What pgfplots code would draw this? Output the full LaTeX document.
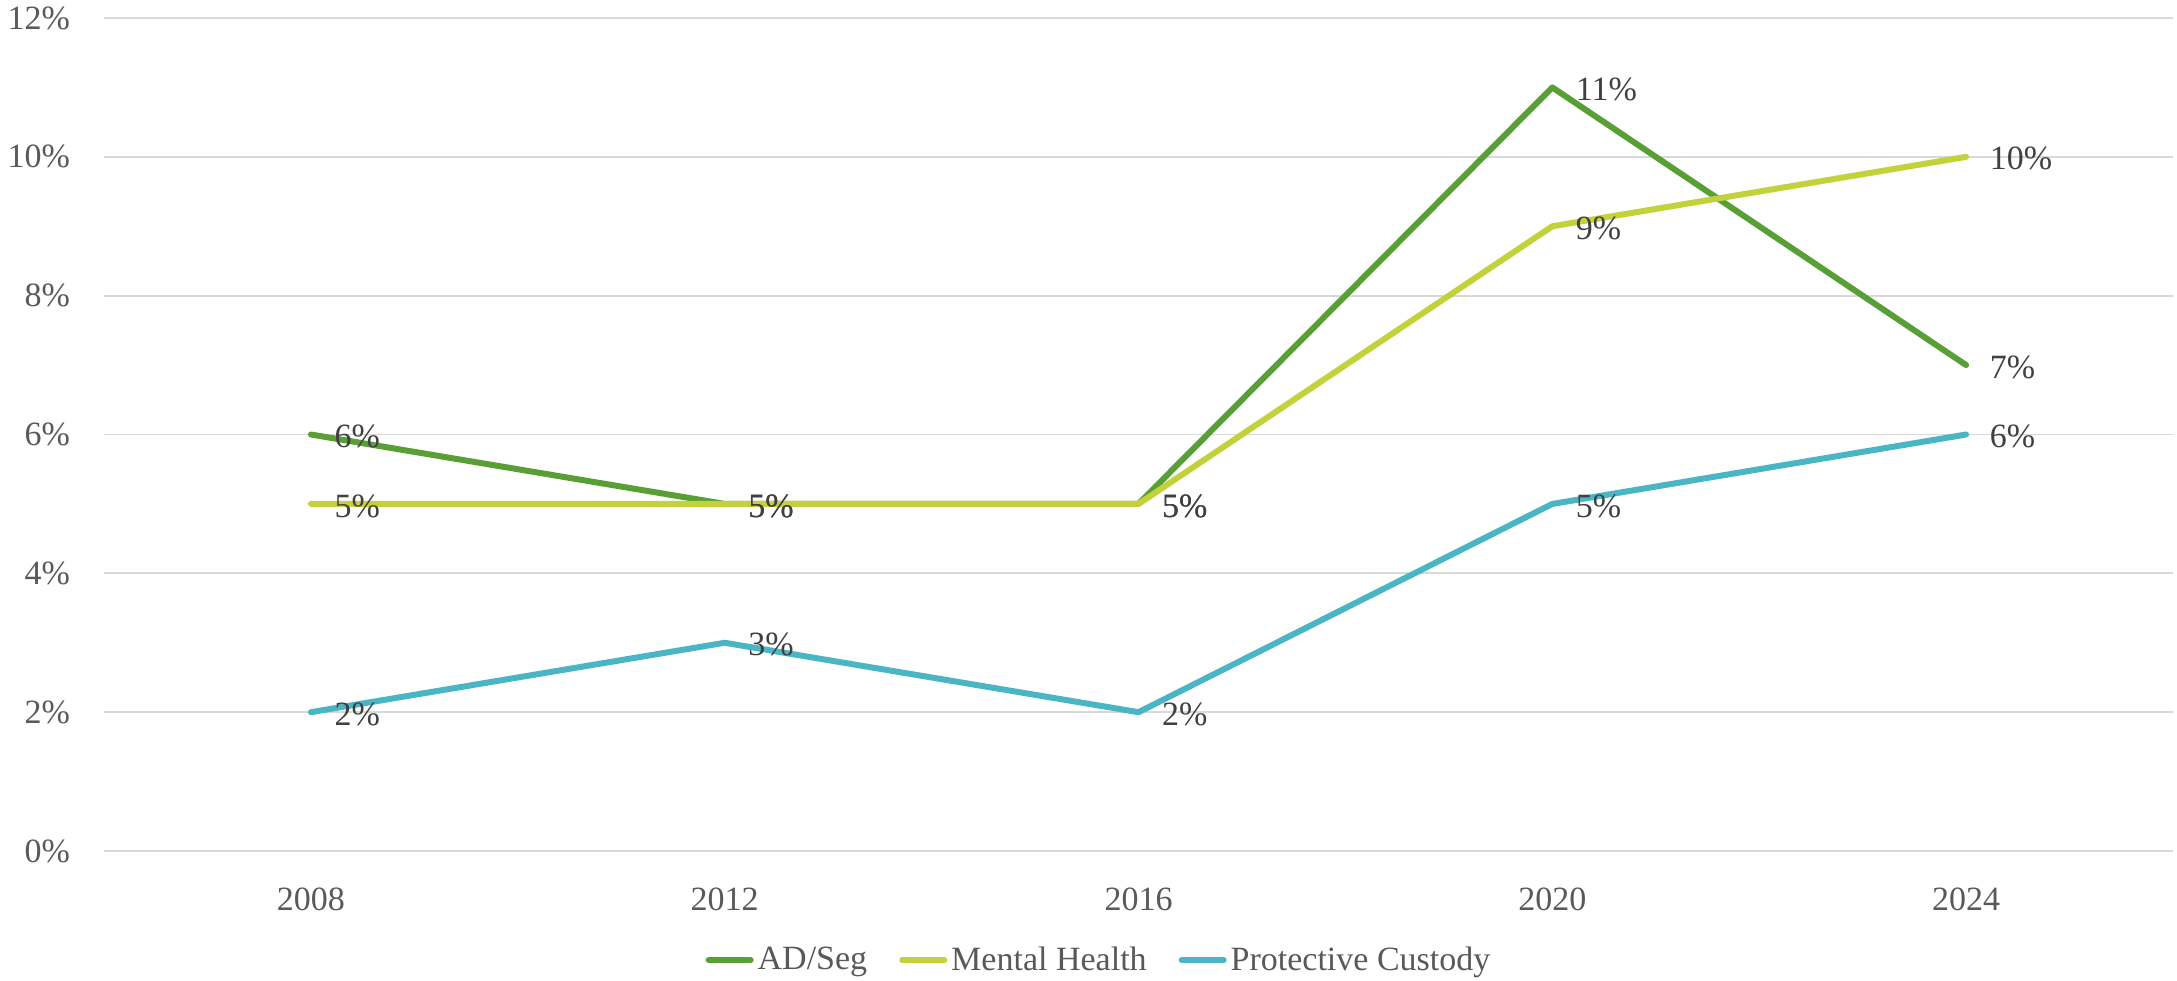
\documentclass[border=0pt]{standalone}
\usepackage{fontspec}
\setmainfont{Liberation Serif}
\usepackage{pgfplots}
\pgfplotsset{compat=1.18}
\definecolor{cAD}{HTML}{589F36}
\definecolor{cMH}{HTML}{C3D23B}
\definecolor{cPC}{HTML}{4AB5C4}
\definecolor{cGrid}{HTML}{D9D9D9}
\definecolor{cTick}{HTML}{595959}
\definecolor{cLab}{HTML}{404040}
\newcommand{\fs}{\fontsize{17}{20}\selectfont}
\begin{document}
\begin{tikzpicture}
\begin{axis}[
  name=ax,
  scale only axis,
  width=1034.5pt, height=416.5pt,
  xmin=-0.5, xmax=4.5,
  ymin=0, ymax=12,
  xtick={0,1,2,3,4},
  xticklabels={2008,2012,2016,2020,2024},
  ytick={0,2,4,6,8,10,12},
  yticklabels={0\%,2\%,4\%,6\%,8\%,10\%,12\%},
  ymajorgrids,
  grid style={cGrid, line width=0.9pt},
  axis line style={draw=none},
  major tick length=0pt,
  tick label style={font=\fs, text=cTick},
  yticklabel style={xshift=-13.5pt},
  xticklabel style={yshift=-15pt},
  clip=false,
  point meta=y,
  nodes near coords={\pgfmathprintnumber[assume math mode=true]{\pgfplotspointmeta}\%},
  every node near coord/.append style={anchor=west, font=\fs, text=cLab, xshift=7pt, yshift=-1pt},
  legend style={at={(0.4814,-0.1309)}, anchor=center, legend columns=-1, draw=none, fill=none, font=\fs, text=cTick,
    /tikz/every even column/.append style={column sep=14pt}, inner sep=0pt},
  legend image code/.code={\draw[#1, line cap=round] (0pt,0pt) -- (21pt,0pt);},
  every axis plot/.append style={line width=3pt, line join=round, line cap=round},
]
\addplot[cAD, mark=none] coordinates {(0,6) (1,5) (2,5) (3,11) (4,7)};
\addlegendentry{AD/Seg}
\addplot[cMH, mark=none] coordinates {(0,5) (1,5) (2,5) (3,9) (4,10)};
\addlegendentry{Mental Health}
\addplot[cPC, mark=none] coordinates {(0,2) (1,3) (2,2) (3,5) (4,6)};
\addlegendentry{Protective Custody}
\end{axis}
\pgfresetboundingbox
\path (ax.south west) ++(-52pt,-64.5pt) rectangle (ax.north east) ++(2pt,9pt);
\end{tikzpicture}
\end{document}
